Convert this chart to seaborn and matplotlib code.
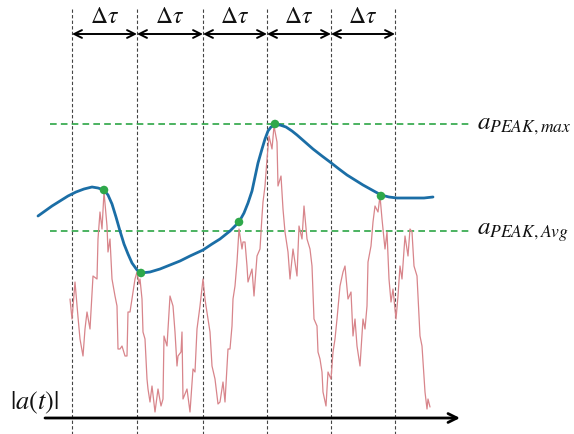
import numpy as np
import pandas as pd
import matplotlib
matplotlib.use("Agg")
import matplotlib.pyplot as plt
import seaborn as sns

# --- measured acceleration magnitude |a(t)| -------------------------------
signal_t = [70, 72, 75, 78, 80, 83, 85, 87, 90, 93, 97, 98, 100, 102, 104, 107, 108,
            110, 112, 115, 117, 118, 120, 122, 125, 127, 128, 130, 132, 135, 137, 139,
            140, 142, 143, 145, 147, 148, 150, 152, 155, 158, 161, 163, 164, 167, 170,
            173, 175, 177, 178, 181, 182, 183, 187, 190, 193, 195, 197, 200, 203, 205,
            206, 208, 210, 212, 215, 218, 220, 223, 225, 227, 228, 230, 232, 233, 235,
            237, 239, 242, 243, 245, 247, 248, 252, 254, 257, 260, 262, 263, 265, 267,
            269, 272, 274, 277, 278, 281, 283, 285, 288, 290, 293, 297, 299, 302, 304,
            307, 310, 312, 314, 317, 318, 320, 322, 323, 326, 328, 331, 333, 335, 337,
            340, 343, 345, 348, 351, 353, 355, 357, 360, 363, 365, 367, 368, 371, 373,
            375, 378, 380, 382, 385, 387, 389, 391, 393, 396, 398, 400, 402, 405, 408,
            410, 412, 414, 417, 420, 422, 425, 427, 428, 430]
signal_a = [119, 99, 136, 101, 79, 62, 89, 106, 89, 142, 139, 179, 206, 189, 226, 192, 166,
            179, 139, 122, 112, 69, 69, 72, 62, 62, 106, 106, 119, 139, 146, 134,
            139, 119, 86, 79, 39, 29, 16, 32, 6, 29, 12, 19, 82, 72, 122,
            112, 86, 52, 62, 66, 86, 19, 29, 6, 49, 46, 89, 112, 139, 119,
            112, 99, 86, 52, 39, 14, 16, 36, 16, 52, 69, 69, 92, 119, 132,
            156, 189, 169, 176, 176, 152, 136, 149, 122, 162, 169, 202, 216, 232, 259,
            282, 269, 292, 276, 232, 242, 209, 186, 166, 139, 169, 142, 192, 179, 212,
            179, 169, 152, 99, 92, 66, 59, 46, 26, 12, 46, 39, 66, 79, 99,
            132, 146, 152, 119, 126, 82, 99, 72, 52, 99, 89, 112, 156, 172, 196,
            212, 206, 222, 199, 169, 186, 139, 116, 129, 99, 122, 152, 139, 182, 162,
            189, 186, 152, 142, 82, 72, 26, 9, 19, 11]

# --- peak envelope ----------------------------------------------------------
envelope_t = [38, 45, 52, 60, 68, 76, 84, 92, 98, 104, 108, 112, 116, 120, 124, 128, 132,
              137, 141, 150, 160, 170, 180, 190, 203, 212, 220, 230, 239, 244, 248, 252,
              255, 258, 262, 265, 268, 271, 275, 280, 286, 292, 297, 305, 313, 322, 330,
              339, 347, 355, 363, 372, 381, 389, 397, 406, 415, 424, 433]
envelope_a = [202, 207, 212, 217, 222, 226, 229, 231, 230, 228, 223, 214, 201, 187, 174, 164, 155,
              148, 145, 146, 149, 153, 157, 162, 168, 174, 179, 187, 196, 205, 215, 227,
              241, 255, 269, 279, 287, 291, 293, 293, 291, 287, 283, 276, 269, 262, 256,
              249, 243, 238, 233, 228, 223, 221, 220, 220, 220, 220, 221]

# --- window peaks ------------------------------------------------------------
peak_t = [104, 141, 239, 275, 381]
peak_a = [228, 145, 196, 294, 222]

# --- reference levels and window boundaries ----------------------------------
level_max = 294
level_avg = 187
window_edges = [72, 137, 203, 267, 331, 395]
window_label = r"$\Delta\tau$"

sns.set_theme(style="white")
plt.rcParams["mathtext.fontset"] = "stix"

fig = plt.figure(figsize=(5.74, 4.35), dpi=100)
ax = fig.add_axes([0, 0, 1, 1])

# window boundaries
for x in window_edges:
    ax.plot([x, x], [409, -16], color="#444444", lw=0.8, ls=(0, (3, 2)), zorder=1)

# duration arrows and labels
for x0, x1 in zip(window_edges[:-1], window_edges[1:]):
    ax.annotate("", xy=(x1, 384), xytext=(x0, 384),
                arrowprops=dict(arrowstyle="<->", color="black", lw=1.4,
                                mutation_scale=14, shrinkA=0, shrinkB=0))
    ax.text((x0 + x1) / 2, 403, window_label, ha="center", va="center",
            fontsize=17, color="#111111")

# levels
ax.plot([50, 470], [level_max, level_max], color="#2ca646", lw=1.2, ls=(0, (4, 2.5)), zorder=2)
ax.plot([50, 470], [level_avg, level_avg], color="#2ca646", lw=1.2, ls=(0, (4, 2.5)), zorder=2)
ax.text(477, level_max, r"$a_{PEAK,max}$", ha="left", va="center", fontsize=18, color="#111111")
ax.text(477, level_avg, r"$a_{PEAK,Avg}$", ha="left", va="center", fontsize=18, color="#111111")

# signal
sig = pd.DataFrame({"t": signal_t, "a": signal_a})
sns.lineplot(data=sig, x="t", y="a", ax=ax, color="#d8858b", lw=0.9, zorder=3)

# envelope
env = pd.DataFrame({"t": envelope_t, "a": envelope_a})
sns.lineplot(data=env, x="t", y="a", ax=ax, color="#1b6ea6", lw=2.0, zorder=4)

# peaks
pk = pd.DataFrame({"t": peak_t, "a": peak_a})
sns.scatterplot(data=pk, x="t", y="a", ax=ax, color="#2ea84a", s=38, edgecolor="none", zorder=5)

# time axis
ax.annotate("", xy=(460, 0), xytext=(45, 0),
            arrowprops=dict(arrowstyle="->", color="black", lw=2.0,
                            mutation_scale=16, shrinkA=0, shrinkB=0))
ax.text(10, 16, r"$|a(t)|$", ha="left", va="center", fontsize=19, color="#111111")

ax.set_xlim(0, 574)
ax.set_ylim(-16, 419)
ax.axis("off")
fig.savefig("out.png", dpi=100)
